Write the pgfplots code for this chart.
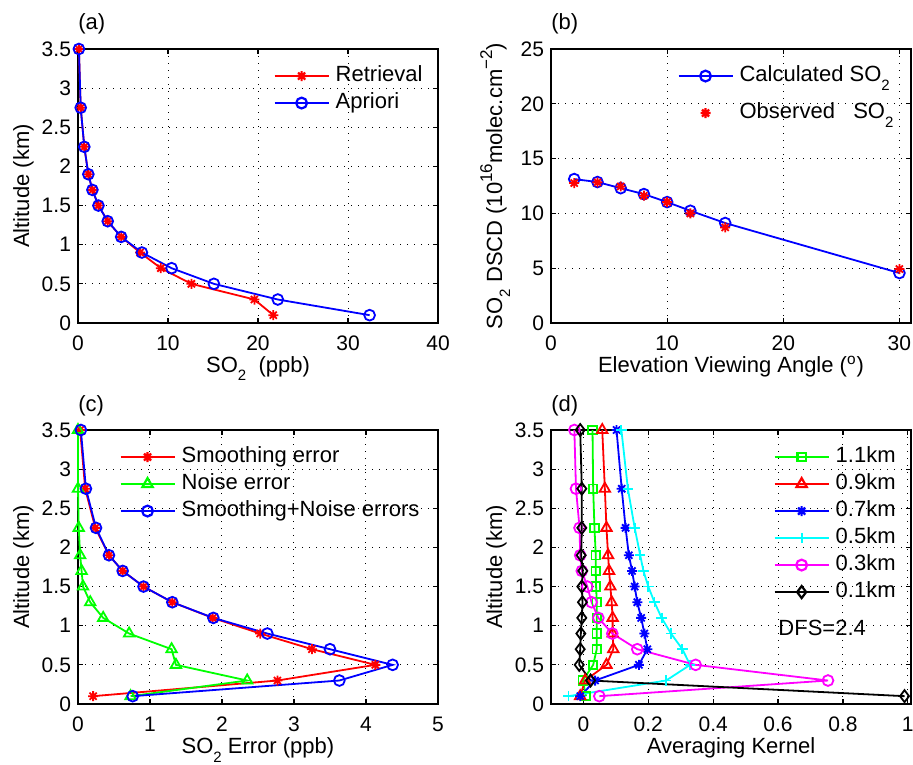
\documentclass[border=0pt]{standalone}
\usepackage{fontspec}
\setmainfont{Liberation Sans}
\usepackage{pgfplots}
\pgfplotsset{compat=1.18}

\pgfdeclareplotmark{ast8}{%
  \pgfpathmoveto{\pgfqpoint{0pt}{\pgfplotmarksize}}\pgfpathlineto{\pgfqpoint{0pt}{-\pgfplotmarksize}}%
  \pgfpathmoveto{\pgfqpoint{\pgfplotmarksize}{0pt}}\pgfpathlineto{\pgfqpoint{-\pgfplotmarksize}{0pt}}%
  \pgfpathmoveto{\pgfqpoint{0.707\pgfplotmarksize}{0.707\pgfplotmarksize}}\pgfpathlineto{\pgfqpoint{-0.707\pgfplotmarksize}{-0.707\pgfplotmarksize}}%
  \pgfpathmoveto{\pgfqpoint{0.707\pgfplotmarksize}{-0.707\pgfplotmarksize}}\pgfpathlineto{\pgfqpoint{-0.707\pgfplotmarksize}{0.707\pgfplotmarksize}}%
  \pgfusepathqstroke}

\definecolor{mred}{rgb}{1,0,0}
\definecolor{mblue}{rgb}{0,0,1}
\definecolor{mgreen}{rgb}{0,1,0}
\definecolor{mcyan}{rgb}{0,1,1}
\definecolor{mmag}{rgb}{1,0,1}

\newcommand{\msub}[1]{\raisebox{-0.7ex}{\fontsize{7.5}{8}\selectfont #1}}
\newcommand{\msup}[1]{\raisebox{0.85ex}{\fontsize{8.5}{9}\selectfont #1}}

\pgfplotsset{
  pred/.style={mred, line width=0.9pt, mark=ast8, mark size=2.5pt},
  pblue/.style={mblue, line width=0.9pt, mark=o, mark size=2.7pt},
  pgreentri/.style={mgreen, line width=0.9pt, mark=triangle, mark size=3pt},
  d1/.style={mgreen, line width=0.9pt, mark=square, mark size=2.1pt},
  d2/.style={mred, line width=0.9pt, mark=triangle, mark size=3pt},
  d3/.style={mblue, line width=0.9pt, mark=ast8, mark size=2.5pt},
  d4/.style={mcyan, line width=0.9pt, mark=+, mark size=2.6pt},
  d5/.style={mmag, line width=0.9pt, mark=o, mark size=2.7pt},
  d6/.style={black, line width=0.9pt, mark=diamond, mark size=3pt},
  mystyle/.style={
    scale only axis, width=180pt, height=137pt,
    axis line style={line width=0.8pt},
    every tick/.style={black, line width=0.6pt},
    major tick length=2.5pt,
    tick align=inside,
    grid=major,
    major grid style={black, line width=0.5pt, dash pattern=on 0.5pt off 3pt},
    /pgf/number format/assume math mode=true,
    ticklabel style={font=\fontsize{10.5}{12}\selectfont},
    xticklabel style={yshift=-3pt},
    label style={font=\fontsize{11}{13}\selectfont},
    xlabel style={at={(axis description cs:0.5,-0.182)}, anchor=base},
    ylabel style={at={(axis description cs:-0.136,0.5)}, anchor=base},
    title style={at={(axis description cs:0,1)}, anchor=base west, yshift=3.5pt, inner sep=0pt, font=\fontsize{11}{13}\selectfont},
    legend style={font=\fontsize{11}{13}\selectfont, draw=none, fill=none, inner sep=0pt,
      at={(rel axis cs:0.542,0.941)}, anchor=north west,
      row sep=3pt, column sep=3pt,
      nodes={inner sep=0pt, text height=8.2pt, text depth=2.3pt}},
    legend cell align=left,
    legend image code/.code={\draw[mark repeat=2,mark phase=2,##1,line width=1.1pt] plot coordinates {(0pt,0pt)(13.5pt,0pt)(27pt,0pt)};},
    scaled ticks=false,
    clip=false,
  }
}

\begin{document}
\begin{tikzpicture}
\useasboundingbox (0,0) rectangle (456.5pt,382pt);

% (a)
\begin{axis}[mystyle, at={(39pt,220.5pt)}, anchor=south west,
  xmin=0, xmax=40, ymin=0, ymax=3.5,
  xtick={0,10,20,30,40}, ytick={0,0.5,...,3.5},
  xlabel={SO\msub{2}\ \ (ppb)}, ylabel={Altitude (km)},
  title={(a)},
  legend style={at={(rel axis cs:0.542,0.941)}}]
\addlegendimage{pred}
\addlegendentry{Retrieval}
\addlegendimage{pblue}
\addlegendentry{Apriori}
\addplot[pred, forget plot] coordinates {
(21.7,0.1) (19.6,0.3) (12.6,0.5) (9.2,0.7) (6.9,0.9) (4.8,1.1) (3.3,1.3) (2.27,1.5) (1.6,1.7) (1.15,1.9) (0.7,2.25) (0.3,2.75) (0.1,3.5)};
\addplot[pblue, forget plot] coordinates {
(32.4,0.1) (22.2,0.3) (15.1,0.5) (10.4,0.7) (7.1,0.9) (4.8,1.1) (3.3,1.3) (2.27,1.5) (1.6,1.7) (1.15,1.9) (0.7,2.25) (0.3,2.75) (0.1,3.5)};
\end{axis}

% (b)
\begin{axis}[mystyle, at={(275.5pt,220.5pt)}, anchor=south west,
  xmin=0, xmax=31, ymin=0, ymax=25,
  xtick={0,10,20,30}, ytick={0,5,...,25},
  xlabel={Elevation Viewing Angle (\textsuperscript{o})},
  ylabel={SO\msub{2} DSCD (10\msup{16}molec.cm\msup{−2})},
  title={(b)},
  legend style={at={(rel axis cs:0.35,0.941)}, row sep=8pt}]
\addlegendimage{pblue}
\addlegendentry{Calculated SO\msub{2}}
\addlegendimage{pred, only marks}
\addlegendentry{Observed\ \ \ SO\msub{2}}
\addplot[pblue, forget plot] coordinates {
(2,13.13) (4,12.86) (6,12.3) (8,11.76) (10,11.03) (12,10.24) (15,9.12) (30,4.56)};
\addplot[pred, only marks, forget plot] coordinates {
(2,12.77) (4,12.83) (6,12.46) (8,11.61) (10,11.03) (12,10.0) (15,8.72) (30,4.92)};
\end{axis}

% (c)
\begin{axis}[mystyle, at={(39pt,30pt)}, anchor=south west,
  xmin=0, xmax=5, ymin=0, ymax=3.5,
  xtick={0,1,2,3,4,5}, ytick={0,0.5,...,3.5},
  xlabel={SO\msub{2} Error (ppb)}, ylabel={Altitude (km)},
  title={(c)},
  legend style={at={(rel axis cs:0.114,0.941)}}]
\addlegendimage{pred}
\addlegendentry{Smoothing error}
\addlegendimage{pgreentri}
\addlegendentry{Noise error}
\addlegendimage{pblue}
\addlegendentry{Smoothing+Noise errors}
\addplot[pred, forget plot] coordinates {
(0.21,0.1) (2.77,0.3) (4.13,0.5) (3.25,0.7) (2.53,0.9) (1.87,1.1) (1.31,1.3) (0.91,1.5) (0.62,1.7) (0.43,1.9) (0.24,2.25) (0.1,2.75) (0.03,3.5)};
\addplot[pgreentri, forget plot] coordinates {
(0.73,0.1) (2.35,0.3) (1.36,0.5) (1.3,0.7) (0.71,0.9) (0.35,1.1) (0.17,1.3) (0.07,1.5) (0.05,1.7) (0.03,1.9) (0.01,2.25) (0.0,2.75) (0.0,3.5)};
\addplot[pblue, forget plot] coordinates {
(0.76,0.1) (3.63,0.3) (4.37,0.5) (3.5,0.7) (2.63,0.9) (1.88,1.1) (1.31,1.3) (0.91,1.5) (0.62,1.7) (0.43,1.9) (0.25,2.25) (0.11,2.75) (0.04,3.5)};
\end{axis}

% (d)
\begin{axis}[mystyle, at={(275.5pt,30pt)}, anchor=south west,
  xmin=-0.1, xmax=1.01, ymin=0, ymax=3.5,
  xtick={0,0.2,0.4,0.6,0.8,1}, ytick={0,0.5,...,3.5},
  xlabel={Averaging Kernel}, ylabel={Altitude (km)},
  title={(d)},
  legend style={at={(rel axis cs:0.617,0.941)}}]
\addlegendimage{d1}
\addlegendentry{1.1km}
\addlegendimage{d2}
\addlegendentry{0.9km}
\addlegendimage{d3}
\addlegendentry{0.7km}
\addlegendimage{d4}
\addlegendentry{0.5km}
\addlegendimage{d5}
\addlegendentry{0.3km}
\addlegendimage{d6}
\addlegendentry{0.1km}
\addplot[d1, forget plot] coordinates {
(0.008,0.1) (-0.002,0.3) (0.03,0.5) (0.041,0.7) (0.041,0.9) (0.041,1.1) (0.041,1.3) (0.039,1.5) (0.038,1.7) (0.038,1.9) (0.034,2.25) (0.03,2.75) (0.028,3.5)};
\addplot[d2, forget plot] coordinates {
(-0.01,0.1) (0.005,0.3) (0.071,0.5) (0.092,0.7) (0.09,0.9) (0.09,1.1) (0.087,1.3) (0.083,1.5) (0.079,1.7) (0.076,1.9) (0.071,2.25) (0.066,2.75) (0.058,3.5)};
\addplot[d3, forget plot] coordinates {
(-0.01,0.1) (0.036,0.3) (0.171,0.5) (0.197,0.7) (0.188,0.9) (0.178,1.1) (0.166,1.3) (0.158,1.5) (0.15,1.7) (0.14,1.9) (0.13,2.25) (0.118,2.75) (0.102,3.5)};
\addplot[d4, forget plot] coordinates {
(-0.046,0.1) (0.255,0.3) (0.329,0.5) (0.305,0.7) (0.27,0.9) (0.241,1.1) (0.219,1.3) (0.2,1.5) (0.185,1.7) (0.175,1.9) (0.158,2.25) (0.137,2.75) (0.117,3.5)};
\addplot[d5, forget plot] coordinates {
(0.049,0.1) (0.754,0.3) (0.346,0.5) (0.166,0.7) (0.089,0.9) (0.046,1.1) (0.025,1.3) (0.012,1.5) (-0.005,1.7) (-0.01,1.9) (-0.012,2.25) (-0.023,2.75) (-0.028,3.5)};
\addplot[d6, forget plot] coordinates {
(0.99,0.1) (0.022,0.3) (-0.013,0.5) (-0.01,0.7) (-0.008,0.9) (-0.005,1.1) (-0.003,1.3) (-0.005,1.5) (-0.002,1.7) (-0.007,1.9) (-0.005,2.25) (-0.005,2.75) (-0.01,3.5)};
\node[anchor=west, inner sep=0pt, font=\fontsize{11}{13}\selectfont] at (axis cs:0.6,0.97) {DFS=2.4};
\end{axis}
\end{tikzpicture}
\end{document}
